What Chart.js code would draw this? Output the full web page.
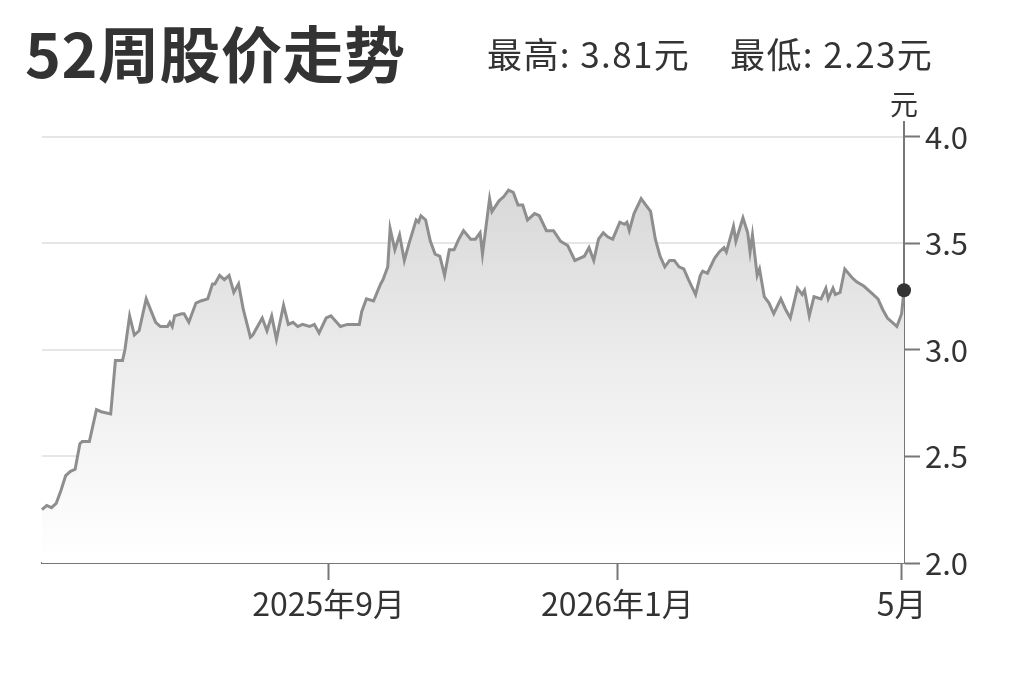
<!DOCTYPE html>
<html>
<head>
<meta charset="utf-8">
<script src="https://cdn.jsdelivr.net/npm/chart.js@4"></script>
<style>
  body { margin: 0; background: #fff; }
  #wrap { position: relative; width: 1023px; height: 682px; font-family: "Noto Sans CJK SC", "Noto Sans", sans-serif; color: #333; }
  #chart1 { position: absolute; left: 0; top: 0; }
  .txt { position: absolute; white-space: nowrap; line-height: 1; }
  #title { left: 25px; top: 21px; font-size: 61px; font-weight: 700; letter-spacing: 0.5px; }
  #hi { left: 487px; top: 35px; font-size: 35px; letter-spacing: 1.4px; }
  #lo { left: 730px; top: 35px; font-size: 35px; letter-spacing: 1.4px; }
  #unit { left: 890px; top: 89px; font-size: 28px; }
</style>
</head>
<body>
<div id="wrap">
  <canvas id="chart1" width="1023" height="682"></canvas>
  <div class="txt" id="title">52周股价走势</div>
  <div class="txt" id="hi">最高: 3.81元</div>
  <div class="txt" id="lo">最低: 2.23元</div>
  <div class="txt" id="unit">元</div>
</div>
<script>
  // days counted from the first day of the 52-week window
  var startDate = '2025-05-03';

  var dayNo = [
    0, 2, 4, 6, 8, 10, 12, 14, 16, 17,
    20, 23, 25, 29, 31, 34, 35, 37, 39, 41,
    44, 48, 50, 53, 54, 55, 56, 59, 60, 62,
    65, 67, 70, 72, 73, 75, 77, 79, 81, 83,
    85, 88, 89, 93, 95, 97, 99, 102, 104, 106,
    108, 110, 113, 115, 117, 120, 122, 126, 129, 134,
    135, 137, 140, 143, 144, 146, 147, 149, 151, 153,
    155, 158, 159, 160, 162, 164, 166, 168, 170, 172,
    174, 176, 178, 181, 183, 185, 186, 189, 190, 193,
    195, 197, 199, 201, 203, 205, 208, 210, 213, 216,
    219, 222, 225, 227, 229, 231, 233, 235, 237, 239,
    241, 244, 246, 247, 248, 250, 253, 255, 257, 259,
    261, 263, 265, 267, 269, 271, 273, 276, 278, 279,
    281, 284, 286, 288, 289, 292, 293, 296, 298, 299,
    300, 302, 303, 305, 307, 309, 312, 314, 316, 319,
    321, 322, 324, 326, 329, 331, 332, 334, 335, 337,
    339, 342, 344, 347, 350, 353, 355, 357, 360, 361,
    363, 364
  ];

  var prices = [
    2.25, 2.27, 2.26, 2.28, 2.34, 2.41, 2.43, 2.44, 2.56, 2.57,
    2.57, 2.72, 2.71, 2.70, 2.95, 2.95, 3.00, 3.16, 3.07, 3.09,
    3.24, 3.13, 3.11, 3.11, 3.13, 3.11, 3.16, 3.17, 3.17, 3.13,
    3.22, 3.23, 3.24, 3.31, 3.31, 3.35, 3.33, 3.35, 3.27, 3.31,
    3.19, 3.06, 3.07, 3.15, 3.09, 3.16, 3.05, 3.21, 3.12, 3.13,
    3.11, 3.12, 3.11, 3.12, 3.08, 3.15, 3.16, 3.11, 3.12, 3.12,
    3.18, 3.24, 3.23, 3.31, 3.33, 3.39, 3.57, 3.47, 3.54, 3.42,
    3.50, 3.61, 3.60, 3.63, 3.61, 3.51, 3.45, 3.44, 3.35, 3.47,
    3.47, 3.52, 3.56, 3.52, 3.52, 3.55, 3.45, 3.71, 3.65, 3.70,
    3.72, 3.75, 3.74, 3.68, 3.68, 3.61, 3.64, 3.63, 3.56, 3.56,
    3.51, 3.49, 3.42, 3.43, 3.44, 3.48, 3.42, 3.52, 3.55, 3.53,
    3.52, 3.60, 3.59, 3.60, 3.56, 3.64, 3.71, 3.68, 3.65, 3.52,
    3.44, 3.39, 3.42, 3.42, 3.39, 3.38, 3.33, 3.26, 3.35, 3.37,
    3.36, 3.43, 3.46, 3.48, 3.46, 3.58, 3.51, 3.62, 3.55, 3.46,
    3.54, 3.35, 3.38, 3.25, 3.22, 3.17, 3.24, 3.19, 3.15, 3.29,
    3.26, 3.28, 3.16, 3.25, 3.24, 3.29, 3.24, 3.29, 3.26, 3.27,
    3.38, 3.34, 3.32, 3.30, 3.27, 3.24, 3.19, 3.15, 3.12, 3.11,
    3.17, 3.28
  ];

  var monthDates = ['2025-09-01', '2026-01-01', '2026-05-01'];
  var monthLabels = ['2025年9月', '2026年1月', '5月'];
  var priceTicks = [2.0, 2.5, 3.0, 3.5, 4.0];

  function daysFromStart(d) {
    return Math.round((Date.parse(d) - Date.parse(startDate)) / 86400000);
  }
  var monthDays = monthDates.map(daysFromStart);
  var lastDay = dayNo[dayNo.length - 1];

  var points = dayNo.map(function(d, i) { return { x: d, y: prices[i] }; });
  var labelFont = { family: '"Noto Sans CJK SC", "Noto Sans", sans-serif', size: 31 };

  var ctx = document.getElementById('chart1').getContext('2d');

  var myChart = new Chart(ctx, {
    type: 'line',
    data: {
      datasets: [{
        data: points,
        borderColor: '#8e8e8e',
        borderWidth: 3,
        tension: 0,
        fill: 'start',
        backgroundColor: function(c) {
          var chart = c.chart;
          if (!chart.chartArea) return 'rgba(0,0,0,0)';
          var top = chart.scales.y.getPixelForValue(Math.max.apply(null, prices));
          var g = chart.ctx.createLinearGradient(0, top, 0, chart.chartArea.bottom);
          g.addColorStop(0, '#d8d8d8');
          g.addColorStop(0.5, '#eeeeee');
          g.addColorStop(1, '#ffffff');
          return g;
        },
        pointRadius: function(c) { return c.dataIndex === prices.length - 1 ? 7 : 0; },
        pointHoverRadius: 0,
        pointBackgroundColor: '#333',
        pointBorderColor: '#333',
        pointBorderWidth: 0,
        clip: false
      }]
    },
    options: {
      responsive: false,
      animation: false,
      events: [],
      layout: { padding: { top: 122, left: 42, right: 0, bottom: 0 } },
      plugins: {
        legend: { display: false },
        tooltip: { enabled: false }
      },
      scales: {
        x: {
          type: 'linear',
          min: 0,
          max: lastDay,
          afterBuildTicks: function(s) { s.ticks = monthDays.map(function(v) { return { value: v }; }); },
          afterFit: function(s) { s.height = 119; },
          ticks: {
            autoSkip: false,
            maxRotation: 0,
            padding: 5,
            color: '#333',
            font: { family: labelFont.family, size: 32 },
            callback: function(v, i) { return monthLabels[i]; }
          },
          grid: { drawOnChartArea: false, tickLength: 17, tickColor: '#777', tickWidth: 2 },
          border: { color: '#777', width: 2 }
        },
        y: {
          position: 'right',
          min: 2,
          max: 4.07,
          afterBuildTicks: function(s) { s.ticks = priceTicks.map(function(v) { return { value: v }; }); },
          afterFit: function(s) { s.width = 119; },
          ticks: {
            padding: 5,
            color: '#333',
            font: labelFont,
            callback: function(v) { return v.toFixed(1); }
          },
          grid: { drawOnChartArea: false, tickLength: 16, tickColor: '#777', tickWidth: 2 },
          border: { color: '#777', width: 2 }
        },
        yGrid: {
          position: 'right',
          min: 2,
          max: 4.07,
          z: 1,
          afterBuildTicks: function(s) { s.ticks = priceTicks.slice(1).map(function(v) { return { value: v }; }); },
          afterFit: function(s) { s.width = 0; },
          ticks: { display: false },
          grid: { color: '#e6e6e6', lineWidth: 2, drawTicks: false },
          border: { display: false }
        }
      }
    }
  });
</script>
</body>
</html>
